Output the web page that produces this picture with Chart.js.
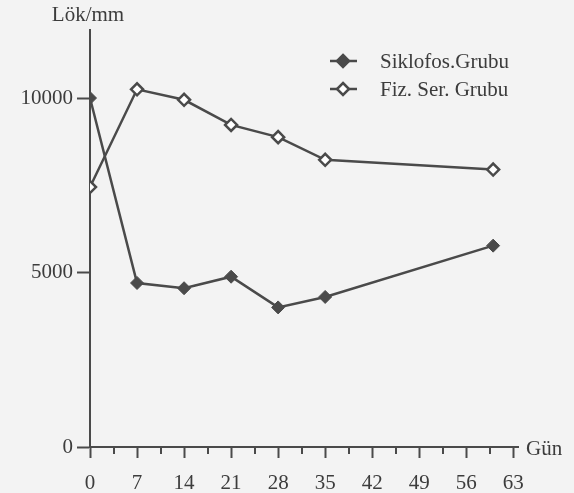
<!DOCTYPE html>
<html>
<head>
<meta charset="utf-8">
<script src="https://cdn.jsdelivr.net/npm/chart.js@4"></script>
<style>
  html, body { margin: 0; padding: 0; background: #f3f3f3; }
  #wrap { width: 574px; height: 493px; }
</style>
</head>
<body>
<div id="wrap"><canvas id="chartLok" width="574" height="493"></canvas></div>
<script>
/* Lök/mm - gun grafigi */
const days = [0, 7, 14, 21, 28, 35, 60];
const siklofos = [10000, 4700, 4550, 4880, 4000, 4300, 5770];
const fizSer = [7450, 10250, 9950, 9230, 8880, 8230, 7950];
const seriesNames = ['Siklofos.Grubu', 'Fiz. Ser. Grubu'];
const yTicks = [0, 5000, 10000];
const xTicks = [0, 7, 14, 21, 28, 35, 42, 49, 56, 63];
const xMinorTicks = [3.5, 10.5, 17.5, 24.5, 31.5, 38.5, 45.5, 52.5, 59.5];
const yTitle = 'Lök/mm';
const xTitle = 'Gün';

const ink = '#4a4a4a';
const textInk = '#3c3c3c';
const fontFam = '"Liberation Serif", "DejaVu Serif", serif';

const toPoints = (vals) => days.map((d, i) => ({ x: d, y: vals[i] }));

/* eksen yazilari, ara cizgiler ve lejant */
const extras = {
  id: 'extras',
  afterDraw(chart) {
    const ctx = chart.ctx;
    const xs = chart.scales.x;
    const area = chart.chartArea;
    ctx.save();

    // ara tick'ler
    ctx.strokeStyle = ink;
    ctx.lineWidth = 2;
    xMinorTicks.forEach((v) => {
      let px = Math.round(xs.getPixelForValue(v));
      ctx.beginPath();
      ctx.moveTo(px, area.bottom);
      ctx.lineTo(px, area.bottom + 7);
      ctx.stroke();
    });

    ctx.fillStyle = textInk;
    ctx.font = '21px ' + fontFam;
    ctx.textBaseline = 'middle';
    ctx.textAlign = 'center';
    ctx.fillText(yTitle, area.left - 2, 15);
    ctx.textAlign = 'left';
    ctx.fillText(xTitle, area.right + 8, area.bottom + 2);

    // lejant
    chart.data.datasets.forEach((ds, i) => {
      let ly = 61 + i * 28;
      ctx.strokeStyle = ds.borderColor;
      ctx.lineWidth = 2.5;
      ctx.beginPath();
      ctx.moveTo(330, ly);
      ctx.lineTo(357, ly);
      ctx.stroke();
      ctx.beginPath();
      ctx.moveTo(343, ly - 6);
      ctx.lineTo(349, ly);
      ctx.lineTo(343, ly + 6);
      ctx.lineTo(337, ly);
      ctx.closePath();
      ctx.fillStyle = ds.pointBackgroundColor;
      ctx.fill();
      ctx.lineWidth = 2.5;
      ctx.stroke();
      ctx.fillStyle = textInk;
      ctx.textAlign = 'left';
      ctx.fillText(ds.label, 380, ly + 1);
    });
    ctx.restore();
  },
};

const ctx = document.getElementById('chartLok').getContext('2d');
const myChart = new Chart(ctx, {
  type: 'line',
  plugins: [extras],
  data: {
    datasets: [
      {
        label: seriesNames[0],
        data: toPoints(siklofos),
        borderColor: ink,
        borderWidth: 2.5,
        pointStyle: 'rectRot',
        pointRadius: 6.5,
        pointBackgroundColor: ink,
        pointBorderColor: ink,
        pointBorderWidth: 1,
        tension: 0,
      },
      {
        label: seriesNames[1],
        data: toPoints(fizSer),
        borderColor: ink,
        borderWidth: 2.5,
        pointStyle: 'rectRot',
        pointRadius: 6,
        pointBackgroundColor: '#ffffff',
        pointBorderColor: ink,
        pointBorderWidth: 2.5,
        tension: 0,
      },
    ],
  },
  options: {
    responsive: false,
    animation: false,
    layout: {
      padding: { top: 30, right: 56, left: 0, bottom: 0 },
    },
    scales: {
      x: {
        type: 'linear',
        min: 0,
        max: 63.7,
        afterBuildTicks: (scale) => {
          scale.ticks = xTicks.map((v) => ({ value: v }));
        },
        afterFit: (scale) => {
          scale.height = 46;
        },
        grid: {
          drawOnChartArea: false,
          drawTicks: true,
          tickLength: 11,
          tickWidth: 2,
          tickColor: ink,
        },
        border: { display: true, color: ink, width: 2 },
        ticks: {
          color: textInk,
          padding: 13,
          maxRotation: 0,
          autoSkip: false,
          font: { family: fontFam, size: 21 },
        },
      },
      y: {
        min: 0,
        max: 11950,
        afterBuildTicks: (scale) => {
          scale.ticks = yTicks.map((v) => ({ value: v }));
        },
        afterFit: (scale) => {
          scale.width = 90;
        },
        grid: {
          drawOnChartArea: false,
          drawTicks: true,
          tickLength: 13,
          tickWidth: 2,
          tickColor: ink,
        },
        border: { display: true, color: ink, width: 2 },
        ticks: {
          color: textInk,
          padding: 4,
          font: { family: fontFam, size: 21 },
          callback: (v) => String(v),
        },
      },
    },
    plugins: {
      legend: { display: false },
      tooltip: { enabled: false },
    },
  },
});
</script>
</body>
</html>
